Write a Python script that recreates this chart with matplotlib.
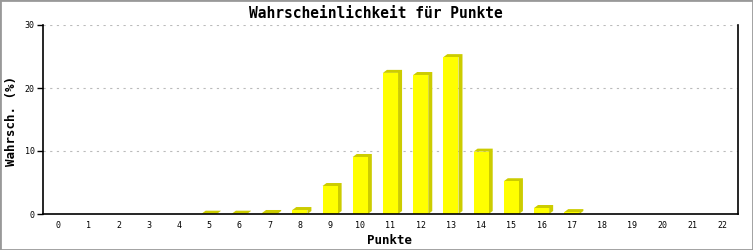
import numpy as np
import matplotlib
matplotlib.use("Agg")
import matplotlib.pyplot as plt
from matplotlib.patches import Rectangle

# Punkte und Wahrscheinlichkeit (%)
punkte = list(range(23))
wahrsch = [0, 0, 0, 0, 0, 0.05, 0.05, 0.16, 0.63, 4.44, 9.05, 22.4, 22.06,
           24.9, 9.9, 5.2, 0.95, 0.3, 0, 0, 0, 0, 0]
yticks = [0, 10, 20, 30]

W, H = 753, 250
dpi = 100
fig = plt.figure(figsize=(W / dpi, H / dpi), dpi=dpi)
fig.patch.set_facecolor("white")
fig.patches.append(Rectangle((0, 0), 1, 1, transform=fig.transFigure, fill=False,
                             edgecolor="#999999", linewidth=2))

ax_w, ax_h = 695, 189
ax = fig.add_axes([43 / W, (H - 214) / H, ax_w / W, ax_h / H])
mono = "DejaVu Sans Mono"

xmin, xmax, ymin, ymax = -0.5, 22.5, 0, 30
bw = 0.5
# depth of the 3D look: 4 px right, 3 px up, converted to data units
dx = 4 * (xmax - xmin) / ax_w
dy = 3 * (ymax - ymin) / ax_h

ax.bar(punkte, wahrsch, width=bw, color="#ffff00", zorder=3)
for x, v in zip(punkte, wahrsch):
    if v <= 0:
        continue
    x0, x1 = x - bw / 2, x + bw / 2
    px = [x0, x0 + dx, x1 + dx, x1 + dx, x1, x1]
    py = [v, v + dy, v + dy, dy, 0, v]
    ax.fill(px, py, color="#cccc00", zorder=2, linewidth=0)

ax.set_xlim(xmin, xmax)
ax.set_ylim(ymin, ymax)
ax.set_xticks(punkte)
ax.set_yticks(yticks)
ax.tick_params(axis="x", length=0, labelsize=6, pad=5)
ax.tick_params(axis="y", length=4, width=1, labelsize=6, pad=2)
for lab in ax.get_xticklabels() + ax.get_yticklabels():
    lab.set_family(mono)
ax.grid(axis="y", color="#bbbbbb", linestyle=(0, (2, 4)), linewidth=0.8, zorder=0)
ax.spines["top"].set_visible(False)
for s in ["left", "right", "bottom"]:
    ax.spines[s].set_linewidth(1.2)
    ax.spines[s].set_zorder(4)

fig.text(376 / W, 1 - 13 / H, "Wahrscheinlichkeit für Punkte", ha="center", va="center",
         family=mono, fontweight="bold", fontsize=10.5)
fig.text(389 / W, 1 - 240 / H, "Punkte", ha="center", va="center",
         family=mono, fontweight="bold", fontsize=9)
fig.text(12 / W, 1 - 121 / H, "Wahrsch. (%)", ha="center", va="center", rotation=90,
         family=mono, fontweight="bold", fontsize=9)

fig.savefig("out.png", dpi=dpi)
